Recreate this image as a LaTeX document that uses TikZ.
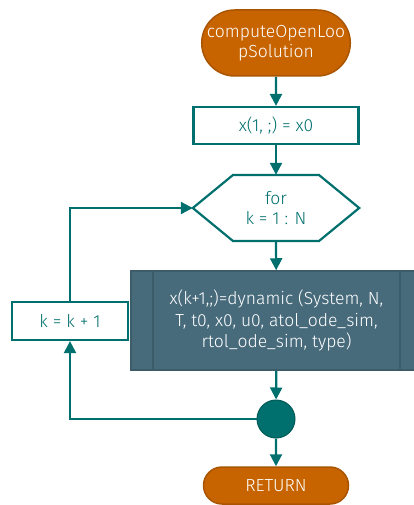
\documentclass[tikz,border=0pt]{standalone}
\usepackage{fontspec}
\setmainfont{Fira Sans}[UprightFont=* Light]
\usetikzlibrary{arrows.meta}
\definecolor{tealline}{RGB}{0,112,110}
\definecolor{termfill}{RGB}{200,100,0}
\definecolor{termline}{RGB}{168,84,0}
\definecolor{procfill}{RGB}{72,107,124}
\definecolor{procline}{RGB}{60,92,106}
\tikzset{
  flow/.style={line width=2.2pt, color=tealline, -{Triangle[length=12pt,width=12pt]}},
  terminal/.style={rounded rectangle, fill=termfill, draw=termline, line width=1.5pt,
    text=white, font=\fontsize{17.5}{20}\selectfont, align=center, inner sep=0pt},
  stepbox/.style={rectangle, draw=tealline, fill=white, line width=2.2pt,
    text=tealline, font=\fontsize{17.5}{20}\selectfont, align=center, inner sep=0pt},
}
\usetikzlibrary{shapes.misc}
\begin{document}
\begin{tikzpicture}[x=1pt, y=-1pt]
		%%%%% START %%%%%
		\useasboundingbox (0, 0) rectangle (414, 505);
		
		\node[terminal, minimum width=146pt, minimum height=66pt] (start) at (276, 43) {computeOpenLoo\\pSolution};
		\node[stepbox, minimum width=165pt, minimum height=37pt] (init) at (276, 125.5) {x(1, ;) = x0};
		
		% for loop hexagon
		\node[minimum width=166pt, minimum height=66pt, inner sep=0pt] (loop) at (276, 208) {};
		\draw[line width=2.2pt, color=tealline, fill=white, line join=miter]
			(loop.west) -- (233, 175) -- (319, 175) -- (loop.east) -- (319, 241) -- (233, 241) -- cycle;
		\node[text=tealline, font=\fontsize{17.5}{20}\selectfont, align=center] at (loop) {for\\k = 1 : N};
		
		% predefined process
		\clip (0, 0) rectangle (414, 505);
		\node[rectangle, fill=procfill, draw=procline, line width=1.5pt, minimum width=291pt,
			minimum height=99pt, inner sep=0pt] (dyn) at (276.5, 320.5) {};
		\draw[line width=1.5pt, color=procline] (153, 271) -- (153, 370);
		\draw[line width=1.5pt, color=procline] (400, 271) -- (400, 370);
		\node[text=white, font=\fontsize{17.5}{21.5}\selectfont, align=center] at (dyn)
			{x(k+1,;)=dynamic (System, N,\\T, t0, x0, u0, atol\_ode\_sim,\\rtol\_ode\_sim, type)};
		
		\node[stepbox, minimum width=116pt, minimum height=38pt] (incr) at (70, 321) {k = k + 1};
		
		\node[circle, fill=tealline, draw=tealline!80!black, line width=1pt, minimum size=38pt, inner sep=0pt] (merge) at (276, 419) {};
		
		\node[terminal, minimum width=145pt, minimum height=37pt] (stop) at (276, 485.5) {RETURN};
		
		\coordinate (lowcorner) at (70, 419);
		\coordinate (upcorner) at (70, 208);
		
		\draw[flow] (start) -- (init);
		\draw[flow] (init) -- (loop.north);
		\draw[flow] (loop.south) -- (dyn);
		\draw[flow] (dyn) -- (merge);
		\draw[flow] (merge) -- (stop);
		\draw[flow] (merge.west) -- (lowcorner) -- (incr.south);
		\draw[flow] (incr.north) -- (upcorner) -- (loop.west);
		
		%%%%% END %%%%%
	\end{tikzpicture}
\end{document}
